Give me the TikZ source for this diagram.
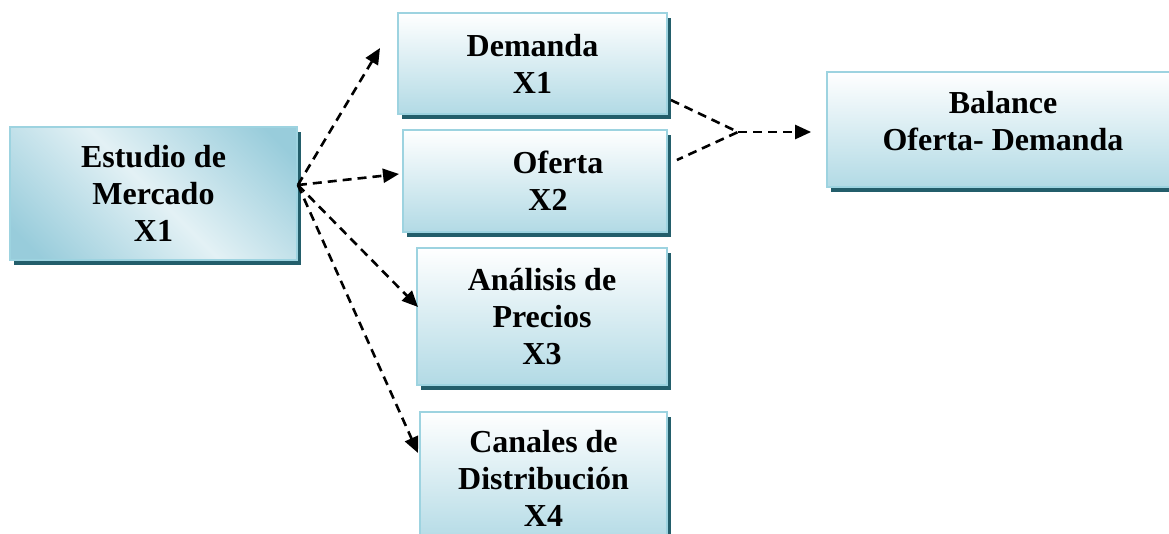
\documentclass[tikz,border=0pt]{standalone}
\usepackage{fontspec}
\setmainfont{Liberation Serif}
\usetikzlibrary{shadows,arrows.meta,calc}
\definecolor{bordc}{HTML}{9DD3E0}
\definecolor{shadc}{HTML}{235E6B}
\definecolor{lightc}{HTML}{FFFFFF}
\definecolor{blueb}{HTML}{B2DAE5}
\definecolor{diagd}{HTML}{98CCDB}
\definecolor{diagl}{HTML}{E3F1F5}
\pgfdeclarehorizontalshading{diagsh}{100bp}{color(0bp)=(diagd); color(20bp)=(diagd); color(50bp)=(diagl); color(80bp)=(diagd); color(100bp)=(diagd)}
\tikzset{
  boxbase/.style={draw=bordc, line width=1.8pt, inner sep=0pt, align=center,
    font=\fontsize{32}{37}\selectfont\bfseries,
    drop shadow={shadow xshift=4pt, shadow yshift=-5pt, fill=shadc, opacity=1}},
  vbox/.style={boxbase, top color=lightc, bottom color=blueb},
  dbox/.style={boxbase, shading=diagsh, shading angle=45},
  txt/.style={inner sep=0pt, align=center, font=\fontsize{32}{37}\selectfont\bfseries},
  conn/.style={line width=2.6pt, dash pattern=on 9pt off 6pt},
  arr/.style={conn, -{Triangle[length=16pt,width=14pt]}}
}
\begin{document}
\begin{tikzpicture}[x=1pt,y=-1pt]
\useasboundingbox (0,0) rectangle (1169,533);
\clip (0,0) rectangle (1169,533);
\node[dbox, minimum width=287pt, minimum height=133pt] (est) at (153.5,193.5) {Estudio de\\Mercado\\X1};
\node[vbox, minimum width=269pt, minimum height=101pt] (dem) at (532.5,63.5) {Demanda\\X1};
\node[vbox, minimum width=264pt, minimum height=102pt] (ofe) at (535,181) {\hspace*{46pt}Oferta\\\hspace*{26pt}X2};
\node[vbox, minimum width=250pt, minimum height=137pt] (pre) at (542,316.5) {An\'alisis de\\Precios\\X3};
\node[vbox, minimum width=247pt, minimum height=132pt] (can) at (543.5,478) {Canales de\\Distribuci\'on\\X4};
\node[vbox, minimum width=352pt, minimum height=115pt] (bal) at (1003,129.5) {};
\node[txt] (baltxt) at (1003,121.5) {Balance\\Oferta- Demanda};
\coordinate (src) at ($(est.east)+(0,-8.5)$);
\coordinate (tdem) at (380,48);
\coordinate (tofe) at (399,174);
\coordinate (tpre) at (418,307);
\coordinate (tcan) at (418,453);
\coordinate (sdem) at ($(dem.east)+(3,36.5)$);
\coordinate (sofe) at ($(ofe.east)+(9,-21)$);
\coordinate (mrg) at (738,132);
\coordinate (tbal) at ($(bal.west)+(-15,2.5)$);
\draw[arr] (src) -- (tdem);
\draw[arr] (src) -- (tofe);
\draw[arr] (src) -- (tpre);
\draw[arr] (src) -- (tcan);
\draw[conn] (sdem) -- (mrg) -- (sofe);
\draw[arr] (mrg) -- (tbal);
\end{tikzpicture}
\end{document}
